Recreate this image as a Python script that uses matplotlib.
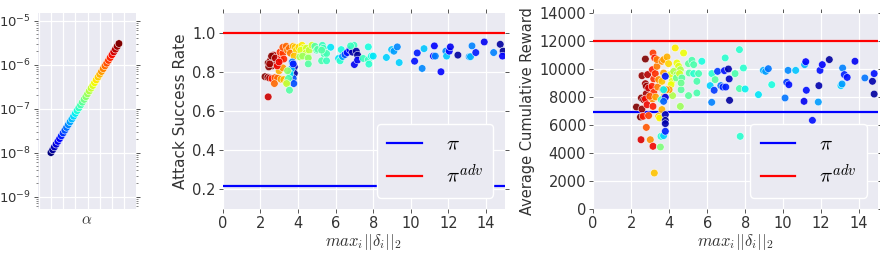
import matplotlib
matplotlib.use("Agg")
import matplotlib.pyplot as plt
import matplotlib.ticker as mticker
import numpy as np

plt.rcParams['font.family'] = ['DejaVu Sans']
plt.rcParams['mathtext.fontset'] = 'cm'

TXT = '#333333'

# ---------------- data ----------------
# panel 1: alpha values (log scale), one per run index
alpha_idx = list(range(40))
alpha_vals = [1.00e-8, 1.16e-8, 1.34e-8, 1.55e-8, 1.80e-8, 2.08e-8, 2.41e-8, 2.79e-8,
              3.23e-8, 3.74e-8, 4.33e-8, 5.01e-8, 5.80e-8, 6.72e-8, 7.78e-8, 9.00e-8,
              1.04e-7, 1.21e-7, 1.40e-7, 1.62e-7, 1.87e-7, 2.17e-7, 2.51e-7, 2.91e-7,
              3.36e-7, 3.89e-7, 4.51e-7, 5.22e-7, 6.04e-7, 6.99e-7, 8.09e-7, 9.37e-7,
              1.08e-6, 1.25e-6, 1.45e-6, 1.68e-6, 1.95e-6, 2.25e-6, 2.61e-6, 3.02e-6]
alpha_ticks = [1e-9, 1e-8, 1e-7, 1e-6, 1e-5]

# panel 2: attack success rate vs max perturbation norm; c = colour parameter (0..1, jet)
asr_x = [2.42, 2.25, 2.40, 2.50, 2.62, 2.78, 2.92, 2.75, 3.10, 3.25, 3.40, 3.00, 3.20,
         2.42, 2.55, 2.68, 2.75, 2.62, 2.45, 2.85, 2.95, 2.70, 2.60, 2.50, 2.80, 2.90,
         3.10, 3.05, 3.20, 3.10, 3.25, 3.00,
         3.20, 3.38, 3.45, 3.55, 3.60,
         3.75, 3.85, 3.92, 4.05, 4.22, 3.80, 4.30,
         4.15, 4.45, 4.42, 4.60, 4.75, 4.55,
         4.10, 4.25, 4.55,
         4.90, 5.00, 5.05, 5.30, 5.40, 5.35, 4.55, 5.74, 5.26, 5.52, 5.52, 5.26,
         3.81, 3.81, 3.75, 3.78, 3.65, 3.58, 3.50, 3.45, 3.40, 3.55, 3.70, 3.75,
         6.16, 6.24, 6.30, 6.37, 6.50, 6.62, 6.76, 6.90, 6.98, 6.80, 7.00, 7.10, 7.17, 7.17,
         7.74, 7.47, 7.74, 7.77, 7.90, 8.00, 8.70, 8.98, 9.10, 9.28, 9.38,
         10.20, 10.34, 10.60, 10.70, 11.20, 11.25, 11.30, 11.60, 11.86, 11.90, 12.04, 12.10,
         12.50, 13.10, 13.17, 13.25, 13.45, 13.90, 14.40, 14.75, 14.90, 14.87]
asr_y = [0.672, 0.775, 0.772, 0.768, 0.765, 0.770, 0.768, 0.740, 0.762, 0.760, 0.748, 0.805, 0.820,
         0.845, 0.860, 0.870, 0.850, 0.830, 0.825, 0.840, 0.860, 0.885, 0.880, 0.840, 0.870, 0.830,
         0.880, 0.900, 0.895, 0.860, 0.865, 0.850,
         0.925, 0.930, 0.910, 0.920, 0.895,
         0.930, 0.925, 0.910, 0.925, 0.935, 0.880, 0.920,
         0.910, 0.920, 0.895, 0.910, 0.935, 0.875,
         0.876, 0.880, 0.870,
         0.930, 0.910, 0.915, 0.935, 0.890, 0.920, 0.840, 0.925, 0.856, 0.893, 0.856, 0.910,
         0.825, 0.792, 0.766, 0.740, 0.815, 0.790, 0.766, 0.805, 0.740, 0.706, 0.850, 0.840,
         0.868, 0.856, 0.913, 0.878, 0.888, 0.898, 0.913, 0.900, 0.935, 0.932, 0.837, 0.905, 0.885, 0.860,
         0.927, 0.868, 0.862, 0.839, 0.880, 0.880, 0.873, 0.913, 0.905, 0.927, 0.847,
         0.854, 0.896, 0.817, 0.918, 0.880, 0.932, 0.880, 0.800, 0.905, 0.880, 0.905, 0.927,
         0.885, 0.877, 0.877, 0.932, 0.898, 0.952, 0.898, 0.940, 0.905, 0.880]
asr_c = [0.93, 1.00, 0.98, 0.96, 0.88, 0.82, 0.80, 0.80, 0.74, 0.72, 0.68, 0.72, 0.75,
         1.00, 0.98, 0.97, 0.98, 1.00, 0.99, 0.95, 0.93, 0.96, 0.99, 0.97, 0.96, 0.90,
         0.88, 0.86, 0.85, 0.90, 0.87, 0.90,
         0.82, 0.80, 0.78, 0.80, 0.78,
         0.72, 0.70, 0.68, 0.68, 0.66, 0.70, 0.64,
         0.62, 0.60, 0.60, 0.58, 0.60, 0.58,
         0.55, 0.54, 0.52,
         0.45, 0.44, 0.45, 0.42, 0.43, 0.42, 0.45, 0.35, 0.44, 0.43, 0.42, 0.45,
         0.05, 0.03, 0.20, 0.20, 0.30, 0.35, 0.45, 0.52, 0.58, 0.45, 0.25, 0.15,
         0.35, 0.40, 0.38, 0.28, 0.20, 0.14, 0.12, 0.04, 0.42, 0.42, 0.10, 0.03, 0.02, 0.10,
         0.38, 0.42, 0.42, 0.40, 0.38, 0.35, 0.33, 0.32, 0.28, 0.26, 0.33,
         0.14, 0.15, 0.26, 0.32, 0.12, 0.12, 0.25, 0.12, 0.26, 0.32, 0.12, 0.10,
         0.03, 0.26, 0.30, 0.25, 0.15, 0.10, 0.25, 0.03, 0.02, 0.12]

# panel 3: average cumulative reward vs max perturbation norm
rew_x = [2.28, 2.49, 2.57, 2.54, 2.66, 2.57, 2.75, 2.75, 2.80, 2.80, 2.87, 2.92, 2.75, 2.84,
         2.63, 2.92, 2.52, 2.80, 3.01, 3.15, 3.22, 3.15, 3.24, 3.12, 3.19, 3.27, 3.10, 3.19,
         3.12, 3.15, 2.98, 3.36, 3.45, 3.40, 3.29, 3.45, 3.50, 3.36, 3.62, 3.71, 3.71, 3.62,
         3.66, 3.62, 3.75, 3.89, 3.97, 4.06, 4.15, 4.18, 4.10, 4.00, 3.85, 4.32, 4.41, 4.50,
         4.59, 4.24, 4.41, 4.38, 4.55, 4.67, 4.63, 4.59, 4.63, 4.76, 5.02, 5.20, 5.29, 5.06,
         5.29, 5.46, 5.55, 5.46, 5.02, 5.72, 3.57, 3.71, 3.54, 3.71, 3.59, 3.80, 3.80, 3.80,
         3.80, 3.80, 3.80, 3.71,
         6.16, 6.24, 6.37, 6.25, 6.42, 6.55, 6.72, 6.83, 6.91, 6.98, 6.95, 7.12, 7.16, 7.18,
         7.47, 7.70, 7.70, 7.74, 7.91, 8.00, 8.70, 8.96, 9.08, 9.22, 9.40, 10.19, 10.30, 10.26,
         10.10, 10.66, 11.13, 11.19, 11.10, 11.22, 11.54, 11.85, 11.88, 11.94, 12.06, 12.43,
         13.04, 13.10, 13.13, 13.22, 13.37, 13.78, 14.30, 14.70, 14.79, 14.79]
rew_y = [7285, 6570, 7140, 7930, 7810, 9520, 10710, 8950, 8760, 8240, 9600, 8640, 7860, 7450,
         6620, 6670, 4950, 5830, 4950, 4480, 2570, 11140, 10790, 9950, 9290, 9670, 8760, 8330,
         7860, 7330, 8050, 10190, 9240, 8710, 8000, 6620, 6500, 10670, 10550, 10670, 9710, 9120,
         8520, 7100, 8050, 10860, 10380, 9600, 9120, 8100, 8880, 8520, 8520, 11500, 10430, 10190,
         9950, 9830, 9600, 9360, 9670, 9360, 8520, 7330, 9000, 11140, 10380, 10620, 10310, 9710,
         9670, 9120, 9670, 8290, 8100, 10550, 5190, 5240, 4430, 8520, 7810, 9480, 7980, 6740,
         6330, 6100, 5550, 7690,
         8810, 7620, 8480, 9670, 9240, 9830, 8810, 8710, 9880, 8710, 10790, 10000, 9290, 7760,
         9670, 11380, 8600, 5190, 10070, 8570, 8170, 9900, 9830, 10020, 8880, 9050, 8880, 9900,
         7930, 9900, 10310, 10520, 7690, 8480, 6330, 7640, 8810, 9900, 10310, 10670,
         8810, 8930, 10070, 9600, 9400, 10550, 9360, 9120, 9670, 8210]
rew_c = [1.00, 1.00, 0.98, 0.99, 0.97, 0.98, 1.00, 0.97, 0.98, 0.97, 0.95, 0.93, 0.90, 0.90,
         0.88, 0.84, 0.92, 0.82, 0.76, 0.90, 0.70, 0.85, 0.88, 0.88, 0.86, 0.86, 0.88, 0.86,
         0.76, 0.88, 0.82, 0.78, 0.76, 0.78, 0.74, 0.70, 0.65, 0.78, 0.76, 0.74, 0.74, 0.70,
         0.76, 0.72, 0.74, 0.72, 0.68, 0.64, 0.62, 0.56, 0.64, 0.74, 0.76, 0.66, 0.64, 0.62,
         0.56, 0.56, 0.54, 0.48, 0.60, 0.46, 0.46, 0.54, 0.48, 0.64, 0.46, 0.44, 0.44, 0.45,
         0.40, 0.44, 0.43, 0.44, 0.46, 0.38, 0.40, 0.33, 0.50, 0.36, 0.42, 0.15, 0.10, 0.05,
         0.03, 0.04, 0.16, 0.22,
         0.33, 0.25, 0.18, 0.40, 0.45, 0.18, 0.24, 0.16, 0.14, 0.16, 0.40, 0.04, 0.06, 0.03,
         0.44, 0.40, 0.44, 0.40, 0.40, 0.36, 0.35, 0.30, 0.28, 0.24, 0.38, 0.18, 0.14, 0.26,
         0.24, 0.32, 0.30, 0.12, 0.10, 0.14, 0.14, 0.28, 0.04, 0.14, 0.12, 0.03,
         0.33, 0.28, 0.25, 0.16, 0.14, 0.10, 0.24, 0.04, 0.14, 0.03]

pi_asr, pi_adv_asr = 0.22, 1.0
pi_rew, pi_adv_rew = 6950, 12000
legend_labels = [r'$\pi$', r'$\pi^{adv}$']

# ---------------- figure ----------------
fig = plt.figure(figsize=(8.8, 2.54), dpi=100)
BG = '#EAEAF2'


def style(ax, labelsize=10.5):
    ax.set_facecolor(BG)
    for s in ax.spines.values():
        s.set_visible(False)
    ax.grid(True, color='white', linewidth=0.9)
    ax.set_axisbelow(True)
    ax.tick_params(which='both', direction='out', color='#555555', labelcolor=TXT,
                   top=True, right=True, length=3, width=0.7, labelsize=labelsize, pad=2)
    ax.tick_params(which='minor', length=1.5, width=0.5)


def add_legend(ax, handles):
    leg = ax.legend(handles, legend_labels, loc='lower right', bbox_to_anchor=(1.0, 0.0),
                    fontsize=15, handlelength=1.65, handletextpad=1.15,
                    frameon=True, facecolor=BG, edgecolor='white', framealpha=1,
                    borderpad=0.5, labelspacing=0.45, borderaxespad=0.55)
    leg.get_frame().set_linewidth(1.0)
    leg.set_zorder(5)
    return leg


# panel 1
ax1 = fig.add_axes([0.0432, 0.177, 0.1114, 0.772])
style(ax1, labelsize=9.5)
ax1.set_yscale('log')
ax1.scatter(alpha_idx, alpha_vals, c=np.linspace(0, 1, len(alpha_idx)), cmap='jet', s=30,
            edgecolors='white', linewidths=0.4, zorder=3)
ax1.set_ylim(5.2e-10, 1.5e-5)
ax1.set_xlim(-7.4, 48.8)
ax1.xaxis.set_major_locator(mticker.MultipleLocator(7))
ax1.tick_params(axis='x', which='both', top=False, bottom=False, labelbottom=False)
ax1.yaxis.set_major_locator(mticker.FixedLocator(alpha_ticks))
ax1.yaxis.set_major_formatter(mticker.FuncFormatter(
    lambda v, p: r'$\mathregular{10^{%d}}$' % int(round(np.log10(v)))))
ax1.set_xlabel(r'$\alpha$', fontsize=11, color=TXT, labelpad=2)

# panel 2
ax2 = fig.add_axes([0.253, 0.177, 0.3208, 0.772])
style(ax2)
ax2.scatter(asr_x, asr_y, c=asr_c, cmap='jet', vmin=0, vmax=1, s=30,
            edgecolors='white', linewidths=0.4, alpha=0.9, zorder=3)
l1, = ax2.plot([0, 15], [pi_asr, pi_asr], color='#0000ff', lw=1.6, zorder=2)
l2, = ax2.plot([0, 15], [pi_adv_asr, pi_adv_asr], color='#ff0000', lw=1.6, zorder=2)
ax2.set_xlim(0, 15)
ax2.set_ylim(0.1, 1.1)
ax2.set_xticks(range(0, 15, 2))
ax2.set_yticks([0.2, 0.4, 0.6, 0.8, 1.0])
ax2.set_xlabel(r'$max_i||\delta_i||_2$', fontsize=12, color=TXT, labelpad=1)
ax2.set_ylabel('Attack Success Rate', fontsize=11, color=TXT, labelpad=3)
add_legend(ax2, [l1, l2])

# panel 3
ax3 = fig.add_axes([0.674, 0.177, 0.3239, 0.772])
style(ax3)
ax3.scatter(rew_x, rew_y, c=rew_c, cmap='jet', vmin=0, vmax=1, s=30,
            edgecolors='white', linewidths=0.4, alpha=0.9, zorder=3)
m1, = ax3.plot([0, 15], [pi_rew, pi_rew], color='#0000ff', lw=1.6, zorder=2)
m2, = ax3.plot([0, 15], [pi_adv_rew, pi_adv_rew], color='#ff0000', lw=1.6, zorder=2)
ax3.set_xlim(0, 15)
ax3.set_ylim(0, 14000)
ax3.set_xticks(range(0, 15, 2))
ax3.set_yticks(range(0, 14001, 2000))
ax3.set_xlabel(r'$max_i||\delta_i||_2$', fontsize=12, color=TXT, labelpad=1)
ax3.set_ylabel('Average Cumulative Reward', fontsize=10.5, color=TXT, labelpad=3)
add_legend(ax3, [m1, m2])

fig.savefig('out.png', dpi=100)
